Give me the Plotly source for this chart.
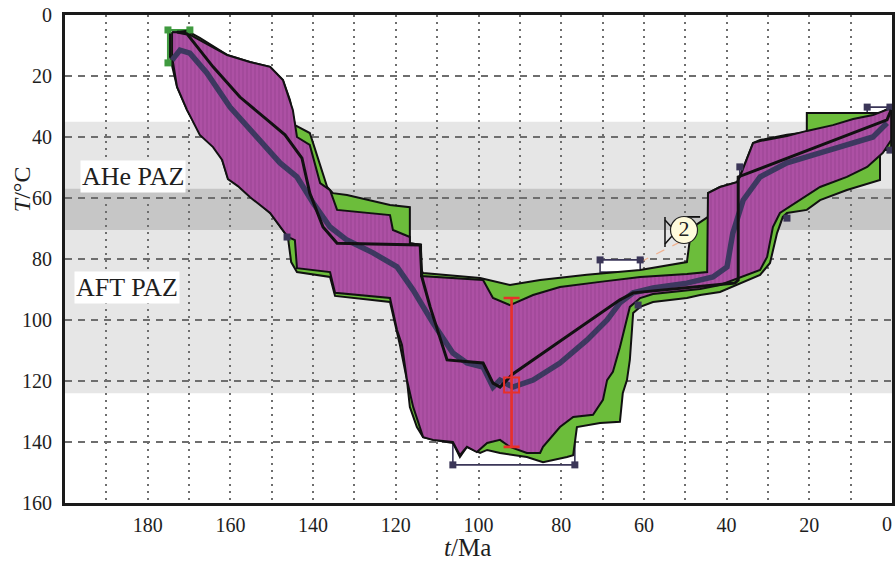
import plotly.graph_objects as go

# ---------------- data ----------------
x_tick_vals = [180, 160, 140, 120, 100, 80, 60, 40, 20, 0]
y_tick_vals = [0, 20, 40, 60, 80, 100, 120, 140, 160]

band_light = [35, 124]      # light grey partial-annealing band
band_dark = [57, 70.5]      # darker overlap band

# acceptable-path envelope (green), upper edge then lower edge
outer_up_t = [174.6, 170.5, 167.4, 160.8, 155.3, 150.4, 147.3, 145.6, 144.4, 140.8,
              140.0, 136.6, 135.2, 131.8, 121.4, 116.6, 116.6, 116.6, 113.9, 113.9,
              113.4, 99.6, 92.4, 85.1, 73.8, 60.9, 49.6, 48.9, 48.1, 45.7,
              44.5, 44.5, 41.6, 37.5, 36.8, 33.6, 31.9, 25.4, 20.6, 20.6, 2.9, 0.2]
outer_up_T = [5.9, 5.2, 7.5, 13.1, 15.4, 17.0, 21.3, 27.9, 36.1, 38.7,
              42.0, 56.4, 58.4, 59.0, 62.3, 63.0, 72.8, 74.8, 75.4, 83.6,
              84.6, 86.2, 88.5, 86.9, 85.2, 83.6, 81.0, 73.8, 69.5, 67.2,
              66.2, 58.4, 56.4, 54.8, 53.1, 42.0, 41.0, 39.3, 38.4, 32.1, 32.1, 30.2]
outer_lo_t = [0.2, 1.7, 2.9, 2.9, 10.9, 17.4, 20.6, 25.4, 26.4, 27.8,
              29.5, 31.9, 39.2, 41.6, 46.4, 49.6, 57.8, 60.9, 62.6, 63.4,
              64.1, 65.1, 65.8, 70.6, 76.2, 77.1, 78.6, 84.4, 88.3, 94.8,
              97.9, 99.6, 102.8, 104.5, 106.2, 111.0, 113.4, 114.9, 116.6, 117.3,
              119.0, 120.2, 121.4, 134.7, 135.9, 143.9, 145.3, 146.1, 147.3, 150.4,
              155.3, 158.2, 160.6, 162.0, 162.5, 163.2, 165.7, 167.4, 170.5, 172.9, 174.6]
outer_lo_T = [44.3, 44.3, 45.2, 54.1, 57.4, 60.7, 63.9, 64.9, 66.2, 71.5,
              81.3, 85.2, 89.5, 90.8, 91.8, 92.8, 94.1, 95.7, 97.7, 113.1,
              119.7, 123.9, 133.4, 133.8, 135.1, 144.3, 144.9, 146.6, 144.9, 143.6,
              142.6, 143.6, 141.6, 144.9, 140.3, 139.3, 138.4, 135.1, 128.5, 119.7,
              108.2, 101.6, 94.1, 92.1, 85.9, 84.3, 81.0, 72.8, 70.5, 64.9,
              59.0, 55.7, 53.4, 47.5, 42.0, 39.7, 38.0, 38.7, 31.1, 23.6, 13.8]

# good-path envelope (magenta), upper edge then lower edge
inner_up_t = [174.1, 170.5, 167.4, 160.8, 155.3, 150.4, 147.3, 144.9, 143.9, 140.8,
              138.3, 135.9, 134.2, 121.4, 120.7, 116.6, 116.6, 113.9, 113.9, 98.9,
              96.5, 92.4, 86.8, 80.3, 70.6, 60.9, 49.6, 44.7, 44.5, 41.6,
              37.5, 36.8, 33.6, 31.9, 25.4, 20.6, 14.3, 9.4, 4.6, 1.0, 0.2]
inner_up_T = [5.6, 5.9, 8.2, 13.1, 15.4, 17.0, 21.3, 31.1, 40.0, 42.6,
              55.1, 57.4, 63.9, 65.6, 70.5, 72.8, 74.8, 75.4, 85.6, 86.9,
              92.8, 95.1, 91.8, 89.2, 87.5, 85.9, 84.9, 84.3, 58.4, 56.4,
              54.8, 53.1, 42.0, 41.3, 39.7, 38.0, 36.1, 34.1, 32.8, 31.1, 30.5]
inner_lo_t = [0.2, 2.2, 6.0, 10.9, 17.4, 22.2, 27.1, 28.8, 30.2, 31.9,
              39.2, 41.6, 46.4, 57.8, 60.9, 63.4, 65.8, 67.5, 68.9, 69.9,
              72.3, 77.1, 80.3, 84.4, 85.1, 88.3, 92.4, 94.8, 97.9, 100.4,
              102.8, 104.5, 106.2, 111.0, 113.4, 115.8, 117.3, 118.5, 119.7, 121.4,
              134.7, 135.9, 143.9, 144.4, 146.1, 147.3, 150.4, 155.3, 158.2, 160.6,
              162.0, 164.2, 167.4, 170.5, 172.9, 174.1]
inner_lo_T = [41.0, 45.2, 49.8, 53.1, 56.4, 60.7, 64.9, 69.5, 79.3, 83.6,
              87.2, 88.5, 89.8, 91.5, 92.8, 95.7, 108.9, 117.0, 119.7, 126.2,
              131.1, 131.8, 135.1, 141.6, 143.6, 143.6, 141.6, 139.3, 140.3, 143.3,
              141.6, 144.3, 140.0, 139.3, 138.4, 128.5, 119.7, 108.2, 103.3, 92.8,
              91.1, 84.3, 83.0, 73.8, 72.8, 70.5, 64.9, 59.7, 56.1, 53.8,
              47.5, 43.3, 39.3, 31.1, 23.6, 13.8]

# weighted mean path
mean_t = [174.1, 172.2, 169.8, 165.7, 160.1, 152.1, 148.0, 143.9, 140.0, 135.9,
          131.8, 125.5, 119.7, 115.8, 111.0, 106.2, 102.8, 98.9, 97.2, 96.5,
          94.8, 91.7, 86.8, 80.3, 73.8, 68.9, 65.8, 62.6, 57.8, 49.6,
          43.3, 39.9, 38.5, 36.0, 31.9, 25.4, 17.4, 9.4, 4.6, 1.2]
mean_T = [14.8, 11.5, 12.5, 19.0, 30.2, 42.0, 48.5, 53.1, 61.6, 69.5,
          73.8, 78.0, 82.6, 90.2, 101.0, 110.8, 114.1, 115.4, 119.7, 122.0,
          119.7, 122.0, 119.7, 114.1, 106.6, 100.0, 94.4, 91.1, 89.5, 87.9,
          85.9, 82.6, 71.5, 60.7, 53.1, 48.5, 45.2, 42.0, 40.0, 35.4]

# best-fit path
best_t = [172.9, 170.5, 164.2, 157.7, 151.1, 146.8, 142.7, 140.8, 137.6, 134.2,
          114.1, 113.7, 111.7, 107.6, 98.9, 96.5, 94.8, 91.7, 80.3, 65.8,
          62.6, 38.0, 37.2, 37.2, 1.2, 0.2]
best_T = [5.6, 6.2, 17.0, 26.9, 34.4, 39.3, 46.9, 58.4, 69.5, 74.8,
          75.4, 85.9, 95.7, 113.1, 114.1, 120.7, 122.0, 117.7, 107.0, 93.4,
          91.1, 87.9, 86.9, 53.1, 34.4, 31.1]

# measured point with error bar
err_t = [92.0]
err_T = [121.3]
err_T_top = [92.8]
err_T_bot = [141.6]

# constraint boxes: (t_old, t_young, T_low, T_high)
box_start = [175.1, 169.8, 4.9, 15.7]
box_2 = [70.6, 60.9, 80.3, 84.3]
box_bottom = [106.2, 76.7, 140.3, 147.5]
box_mid = [36.8, 25.4, 49.8, 66.6]
box_end = [6.0, 0.5, 30.2, 44.3]
navy_mark_t = [146.3, 70.6, 60.9, 106.2, 76.7, 36.8, 25.4, 6.0, 0.5, 0.5, 61.4]
navy_mark_T = [72.8, 80.3, 80.3, 147.5, 147.5, 49.8, 66.6, 30.2, 30.2, 44.3, 95.1]
green_mark_t = [175.1, 169.8, 175.1]
green_mark_T = [4.9, 4.9, 15.7]

label_2 = [50.3, 70.5]
link_t = [60.9, 49.3]
link_T = [81.0, 73.1]

paz_labels = ["AHe PAZ", "AFT PAZ"]
paz_label_t = [183.6, 185.0]
paz_label_T = [53.1, 89.5]

# ---------------- figure ----------------
SERIF = "Liberation Serif"
NAVY = "#3b3658"
fig = go.Figure()


def rect(b):
    return [b[0], b[1], b[1], b[0], b[0]], [b[2], b[2], b[3], b[3], b[2]]


# constraint boxes (underneath envelopes)
for b, fill in [(box_2, "white"), (box_bottom, None), (box_mid, None), (box_end, None)]:
    bx, by = rect(b)
    fig.add_trace(go.Scatter(x=bx, y=by, mode="lines",
                             line=dict(color=NAVY, width=1.6),
                             fill="toself" if fill else None,
                             fillcolor=fill if fill else None,
                             hoverinfo="skip"))
bx, by = rect(box_start)
fig.add_trace(go.Scatter(x=bx, y=by, mode="lines", line=dict(color="#3f9a3f", width=2),
                         hoverinfo="skip"))

# dashed link to label
fig.add_trace(go.Scatter(x=link_t, y=link_T, mode="lines",
                         line=dict(color="#f0b392", width=1.3, dash="dash"),
                         hoverinfo="skip"))

# envelopes
fig.add_trace(go.Scatter(x=outer_up_t + outer_lo_t + [outer_up_t[0]],
                         y=outer_up_T + outer_lo_T + [outer_up_T[0]],
                         mode="lines", fill="toself", fillcolor="#6cbd3b",
                         line=dict(color="#111111", width=2), hoverinfo="skip"))
fig.add_trace(go.Scatter(x=inner_up_t + inner_lo_t + [inner_up_t[0]],
                         y=inner_up_T + inner_lo_T + [inner_up_T[0]],
                         mode="lines", fill="toself", fillcolor="#ad50a4",
                         fillpattern=dict(shape="|", size=4, solidity=0.3,
                                          fgcolor="#9c4595", bgcolor="#ad50a4"),
                         line=dict(color="#111111", width=2), hoverinfo="skip"))

# box corner markers
fig.add_trace(go.Scatter(x=navy_mark_t, y=navy_mark_T, mode="markers",
                         marker=dict(symbol="square", size=7, color=NAVY),
                         hoverinfo="skip"))
fig.add_trace(go.Scatter(x=green_mark_t, y=green_mark_T, mode="markers",
                         marker=dict(symbol="square", size=7, color="#3f9a3f"),
                         hoverinfo="skip"))

# paths
fig.add_trace(go.Scatter(x=mean_t, y=mean_T, mode="lines",
                         line=dict(color="#3d3860", width=5.5), hoverinfo="skip"))
fig.add_trace(go.Scatter(x=best_t, y=best_T, mode="lines",
                         line=dict(color="#111111", width=3), hoverinfo="skip"))

# constraint label "2"
lt, lT = label_2
fig.add_trace(go.Scatter(x=[lt + 4.6, lt + 4.6], y=[lT - 4.3, lT + 5.6], mode="lines",
                         line=dict(color="#111111", width=1.5), hoverinfo="skip"))
fig.add_trace(go.Scatter(x=[lt + 4.6, lt + 2.0, lt + 4.6], y=[lT - 3.3, lT + 0.6, lT + 4.6],
                         mode="lines", line=dict(color="#111111", width=1.5),
                         hoverinfo="skip"))
fig.add_trace(go.Scatter(x=[lt + 0.2, lt - 3.9], y=[lT - 4.3, lT - 4.3], mode="lines",
                         line=dict(color="#111111", width=1.8), hoverinfo="skip"))
fig.add_trace(go.Scatter(x=[lt], y=[lT], mode="markers+text", text=["2"],
                         textposition="middle center",
                         textfont=dict(family=SERIF, size=22, color="#222222"),
                         marker=dict(size=27, color="#fffbdc",
                                     line=dict(color="#222222", width=1.2)),
                         hoverinfo="skip"))

# measured point with asymmetric error bar
fig.add_trace(go.Scatter(x=err_t, y=err_T, mode="markers",
                         marker=dict(symbol="square-open", size=15, color="#e8302a",
                                     line=dict(width=2)),
                         error_y=dict(type="data", symmetric=False,
                                      array=[err_T_bot[0] - err_T[0]],
                                      arrayminus=[err_T[0] - err_T_top[0]],
                                      color="#e8302a", thickness=2.6, width=8),
                         hoverinfo="skip"))

# background bands
fig.add_shape(type="rect", xref="x", yref="y", x0=200, x1=0,
              y0=band_light[0], y1=band_light[1], fillcolor="#e6e6e6",
              line=dict(width=0), layer="below")
fig.add_shape(type="rect", xref="x", yref="y", x0=200, x1=0,
              y0=band_dark[0], y1=band_dark[1], fillcolor="#c6c6c6",
              line=dict(width=0), layer="below")

for txt, t, T in zip(paz_labels, paz_label_t, paz_label_T):
    fig.add_annotation(x=t, y=T, xref="x", yref="y", text=txt, showarrow=False,
                       font=dict(family=SERIF, size=26, color="#1e1e1e"),
                       bgcolor="white", borderpad=1)

fig.add_annotation(x=-0.052, y=0.643, xref="paper", yref="paper",
                   xanchor="center", yanchor="middle",
                   text="<i>T</i>/°C", textangle=-90, showarrow=False,
                   font=dict(family=SERIF, size=24, color="#1e1e1e"))
fig.add_annotation(x=0.487, y=-0.092, xref="paper", yref="paper",
                   xanchor="center", yanchor="middle",
                   text="<i>t</i>/Ma", showarrow=False,
                   font=dict(family=SERIF, size=25, color="#1e1e1e"))

# last x tick label ("0") kept inside the page at the right edge
x_text = [str(v) if v != 0 else "" for v in x_tick_vals]
fig.add_annotation(x=0, y=-0.043, xref="x", yref="paper", xshift=2,
                   xanchor="right", yanchor="middle", text=str(x_tick_vals[-1]),
                   showarrow=False,
                   font=dict(family=SERIF, size=20, color="#1e1e1e"))

grid_col = "#6e6e6e"
fig.update_xaxes(range=[200, 0], tickvals=x_tick_vals, ticktext=x_text,
                 ticks="", ticklabelstandoff=2,
                 tickfont=dict(family=SERIF, size=20, color="#1e1e1e"),
                 showgrid=True, gridcolor=grid_col, gridwidth=1.6, griddash="2px,5px",
                 minor=dict(dtick=10, tick0=0, showgrid=True, gridcolor=grid_col,
                            gridwidth=1.6, griddash="2px,5px"),
                 showline=True, linecolor="#1a1a1a", linewidth=2.5, mirror=True,
                 zeroline=False, automargin=False)
fig.update_yaxes(range=[160, 0], tickvals=y_tick_vals,
                 ticktext=[str(v) for v in y_tick_vals],
                 ticks="", ticklabelstandoff=6, ticklabeloverflow="allow",
                 tickfont=dict(family=SERIF, size=20, color="#1e1e1e"),
                 showgrid=True, gridcolor=grid_col, gridwidth=1.6, griddash="7px,6px",
                 showline=True, linecolor="#1a1a1a", linewidth=3, mirror=True,
                 zeroline=False, automargin=False)

fig.update_layout(template="none", width=895, height=563,
                  margin=dict(l=65, r=3, t=15, b=60),
                  paper_bgcolor="white", plot_bgcolor="white",
                  font=dict(family=SERIF),
                  showlegend=False)

fig.write_html("out.html")
